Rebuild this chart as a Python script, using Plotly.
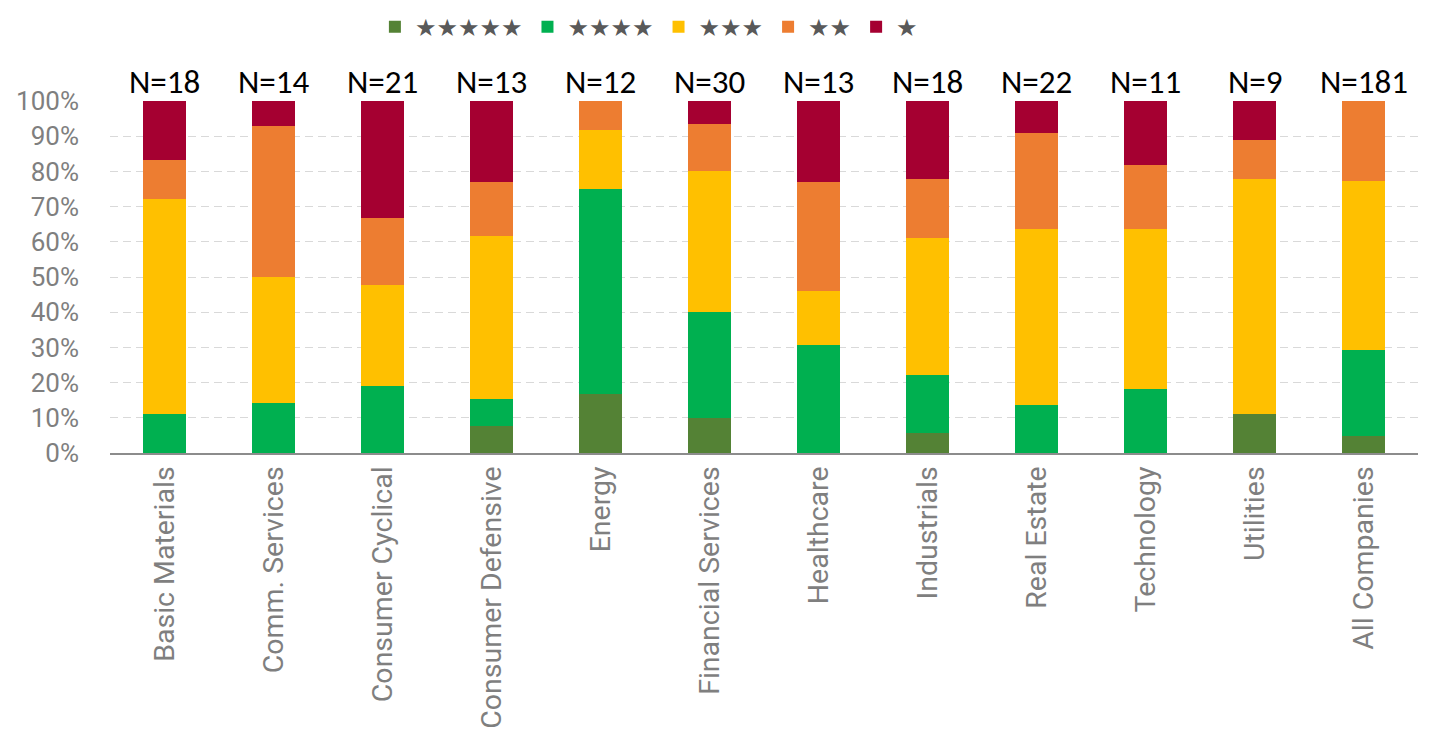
import plotly.graph_objects as go

categories = ["Basic Materials", "Comm. Services", "Consumer Cyclical", "Consumer Defensive",
              "Energy", "Financial Services", "Healthcare", "Industrials", "Real Estate",
              "Technology", "Utilities", "All Companies"]
n_companies = [18, 14, 21, 13, 12, 30, 13, 18, 22, 11, 9, 181]

# counts by star rating for each category
five_star = [0, 0, 0, 1, 2, 3, 0, 1, 0, 0, 1, 9]
four_star = [2, 2, 4, 1, 7, 9, 4, 3, 3, 2, 0, 44]
three_star = [11, 5, 6, 6, 2, 12, 2, 7, 11, 5, 6, 87]
two_star = [2, 6, 4, 2, 1, 4, 4, 3, 6, 2, 1, 41]
one_star = [3, 1, 7, 3, 0, 2, 3, 4, 2, 2, 1, 0]

series_names = ["★★★★★", "★★★★", "★★★", "★★", "★"]
series_counts = [five_star, four_star, three_star, two_star, one_star]
colors = ["#548235", "#00B050", "#FFC000", "#ED7D31", "#A50031"]

tick_vals = [0, 10, 20, 30, 40, 50, 60, 70, 80, 90, 100]
tick_text = [f"{v}%" for v in tick_vals]

axis_font = "Roboto, sans-serif"

fig = go.Figure()
for name, counts, col in zip(series_names, series_counts, colors):
    pct = [c / n * 100 for c, n in zip(counts, n_companies)]
    fig.add_trace(go.Bar(x=categories, y=pct, name=name, marker=dict(color=col, line=dict(width=0)),
                         hoverinfo="x+y"))

for cat, n in zip(categories, n_companies):
    fig.add_annotation(x=cat, y=100, yref="y", xref="x", text=f"N={n}", showarrow=False,
                       yanchor="bottom", yshift=-3,
                       font=dict(family="Carlito, Lato, sans-serif", size=33, color="#000000"))

fig.update_layout(
    width=1422, height=732,
    barmode="stack", bargap=0.6,
    plot_bgcolor="white", paper_bgcolor="white",
    margin=dict(l=102, r=12, t=93, b=287, autoexpand=False),
    legend=dict(orientation="h", x=0.412, xanchor="center", y=1.21, yanchor="middle",
                traceorder="normal", font=dict(size=24, color="#595959", family="DejaVu Sans, sans-serif"),
                itemwidth=30, bgcolor="rgba(0,0,0,0)"),
    xaxis=dict(tickangle=-90, tickfont=dict(family=axis_font, size=28.5, color="#7F7F7F"),
               showgrid=False, showline=True, linecolor="#8C8C8C", linewidth=2, ticks="",
               automargin=False),
    yaxis=dict(range=[0, 100], tickvals=tick_vals, ticktext=tick_text,
               tickfont=dict(family=axis_font, size=26, color="#7F7F7F"),
               ticklabelstandoff=30,
               showgrid=True, gridcolor="#D9D9D9", griddash="8px,5px", gridwidth=1,
               zeroline=False, showline=False, ticks="", automargin=False),
)

fig.write_html("out.html")
